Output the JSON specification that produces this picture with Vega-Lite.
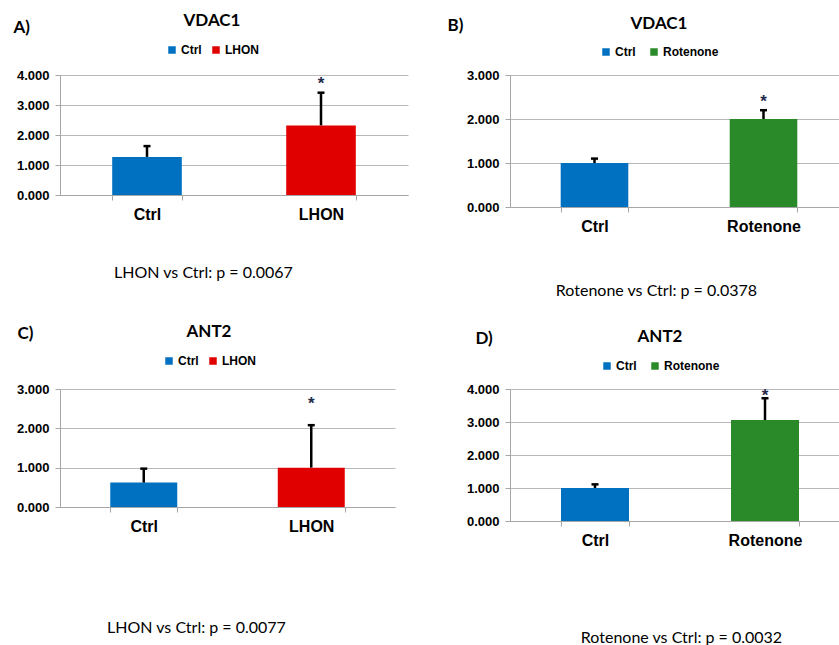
{
  "$schema": "https://vega.github.io/schema/vega-lite/v6.json",
  "autosize": "none",
  "padding": {"left": 60, "top": 75, "right": 779, "bottom": 570},
  "background": "white",
  "datasets": {
    "d": [
      {"panel": "A", "group": "Ctrl", "value": 1.27, "upper": 1.63, "star": null},
      {"panel": "A", "group": "LHON", "value": 2.32, "upper": 3.41, "star": 3.83},
      {"panel": "B", "group": "Ctrl", "value": 1.0, "upper": 1.1, "star": null},
      {"panel": "B", "group": "Rotenone", "value": 2.0, "upper": 2.2, "star": 2.48},
      {"panel": "C", "group": "Ctrl", "value": 0.62, "upper": 0.975, "star": null},
      {"panel": "C", "group": "LHON", "value": 1.0, "upper": 2.08, "star": 2.71},
      {"panel": "D", "group": "Ctrl", "value": 1.0, "upper": 1.11, "star": null},
      {"panel": "D", "group": "Rotenone", "value": 3.06, "upper": 3.72, "star": 3.92}
    ]
  },
  "config": {
    "view": {"stroke": null},
    "axis": {"domainColor": "#a6a6a6", "gridColor": "#b8b8b8", "tickColor": "#a6a6a6", "labelFont": "Liberation Sans", "labelFontWeight": "bold", "labelColor": "black", "titleFont": "Lato", "titleColor": "black", "labelOverlap": false},
    "axisY": {"grid": true, "tickSize": 5, "labelFontSize": 13, "labelPadding": 6, "titleFontSize": 17, "titleFontWeight": "bold", "titleAngle": 0, "titleAlign": "left", "titleBaseline": "middle", "format": ".3f", "labelOverlap": false},
    "axisX": {"labelAngle": 0, "labelFontSize": 16, "labelPadding": 6, "tickBand": "extent", "tickSize": 5, "titleFontSize": 16, "titleFontWeight": "normal", "titleAlign": "center", "titleBaseline": "middle", "grid": false},
    "legend": {"orient": "none", "direction": "horizontal", "titleAnchor": "middle", "titleFont": "Lato", "titleFontSize": 17, "titleFontWeight": "bold", "titleColor": "black", "labelFont": "Liberation Sans", "labelFontWeight": "bold", "labelFontSize": 12, "labelColor": "black", "symbolType": "square", "symbolSize": 56, "symbolStrokeWidth": 0, "symbolOpacity": 1, "labelOffset": 3, "padding": 0, "offset": 0},
    "bar": {"opacity": 1},
    "text": {"font": "Liberation Sans", "fontWeight": "bold", "fontSize": 17, "color": "#1f2c4a", "baseline": "middle", "dy": 4}
  },
  "columns": 2,
  "align": "none",
  "bounds": "flush",
  "spacing": {"row": 182, "column": 102},
  "resolve": {"scale": {"x": "independent", "y": "independent", "color": "independent"}, "axis": {"x": "independent", "y": "independent"}, "legend": {"color": "independent"}},
  "concat": [
    {
      "width": 348, "height": 120,
      "data": {"name": "d"},
      "transform": [{"filter": "datum.panel == 'A'"}],
      "encoding": {
        "x": {"field": "group", "type": "nominal", "sort": ["Ctrl", "LHON"], "scale": {"paddingInner": 0.6, "paddingOuter": 0.3}, "axis": {"title": "LHON vs Ctrl: p = 0.0067", "titleX": 143, "titleY": 77}}
      },
      "layer": [
        {"mark": "bar", "encoding": {
          "y": {"field": "value", "type": "quantitative", "title": "A)", "scale": {"domain": [0, 4]}, "axis": {"values": [0, 1, 2, 3, 4], "titleX": -47, "titleY": -48}},
          "color": {"field": "group", "type": "nominal", "scale": {"domain": ["Ctrl", "LHON"], "range": ["#0070C0", "#E00000"]}, "legend": {"title": "VDAC1", "legendX": 106, "legendY": -62, "titlePadding": 14, "columnPadding": 8}}}},
        {"mark": {"type": "rule", "color": "black", "strokeWidth": 2.5}, "encoding": {"y": {"field": "value", "type": "quantitative", "title": "A)", "axis": {"values": [0, 1, 2, 3, 4], "titleX": -47, "titleY": -48}}, "y2": {"field": "upper"}}},
        {"mark": {"type": "tick", "color": "black", "thickness": 2.5, "size": 7, "orient": "horizontal", "opacity": 1}, "encoding": {"y": {"field": "upper", "type": "quantitative", "title": "A)", "axis": {"values": [0, 1, 2, 3, 4], "titleX": -47, "titleY": -48}}}},
        {"transform": [{"filter": "isValid(datum.star)"}], "mark": {"type": "text", "text": "*"}, "encoding": {"y": {"field": "star", "type": "quantitative", "title": "A)", "axis": {"values": [0, 1, 2, 3, 4], "titleX": -47, "titleY": -48}}}}
      ]
    },
    {
      "width": 338, "height": 132,
      "data": {"name": "d"},
      "transform": [{"filter": "datum.panel == 'B'"}],
      "encoding": {
        "x": {"field": "group", "type": "nominal", "sort": ["Ctrl", "Rotenone"], "scale": {"paddingInner": 0.6, "paddingOuter": 0.3}, "axis": {"title": "Rotenone vs Ctrl: p = 0.0378", "titleX": 146, "titleY": 83}}
      },
      "layer": [
        {"mark": "bar", "encoding": {
          "y": {"field": "value", "type": "quantitative", "title": "B)", "scale": {"domain": [0, 3]}, "axis": {"values": [0, 1, 2, 3], "titleX": -63, "titleY": -50}},
          "color": {"field": "group", "type": "nominal", "scale": {"domain": ["Ctrl", "Rotenone"], "range": ["#0070C0", "#2A8A2A"]}, "legend": {"title": "VDAC1", "legendX": 90, "legendY": -59, "titlePadding": 13, "columnPadding": 12}}}},
        {"mark": {"type": "rule", "color": "black", "strokeWidth": 2.5}, "encoding": {"y": {"field": "value", "type": "quantitative", "title": "B)", "axis": {"values": [0, 1, 2, 3], "titleX": -63, "titleY": -50}}, "y2": {"field": "upper"}}},
        {"mark": {"type": "tick", "color": "black", "thickness": 2.5, "size": 7, "orient": "horizontal", "opacity": 1}, "encoding": {"y": {"field": "upper", "type": "quantitative", "title": "B)", "axis": {"values": [0, 1, 2, 3], "titleX": -63, "titleY": -50}}}},
        {"transform": [{"filter": "isValid(datum.star)"}], "mark": {"type": "text", "text": "*"}, "encoding": {"y": {"field": "star", "type": "quantitative", "title": "B)", "axis": {"values": [0, 1, 2, 3], "titleX": -63, "titleY": -50}}}}
      ]
    },
    {
      "width": 335, "height": 118,
      "data": {"name": "d"},
      "transform": [{"filter": "datum.panel == 'C'"}],
      "encoding": {
        "x": {"field": "group", "type": "nominal", "sort": ["Ctrl", "LHON"], "scale": {"paddingInner": 0.6, "paddingOuter": 0.3}, "axis": {"title": "LHON vs Ctrl: p = 0.0077", "titleX": 136, "titleY": 120}}
      },
      "layer": [
        {"mark": "bar", "encoding": {
          "y": {"field": "value", "type": "quantitative", "title": "C)", "scale": {"domain": [0, 3]}, "axis": {"values": [0, 1, 2, 3], "titleX": -43, "titleY": -56}},
          "color": {"field": "group", "type": "nominal", "scale": {"domain": ["Ctrl", "LHON"], "range": ["#0070C0", "#E00000"]}, "legend": {"title": "ANT2", "legendX": 103, "legendY": -65, "titlePadding": 14, "columnPadding": 8}}}},
        {"mark": {"type": "rule", "color": "black", "strokeWidth": 2.5}, "encoding": {"y": {"field": "value", "type": "quantitative", "title": "C)", "axis": {"values": [0, 1, 2, 3], "titleX": -43, "titleY": -56}}, "y2": {"field": "upper"}}},
        {"mark": {"type": "tick", "color": "black", "thickness": 2.5, "size": 7, "orient": "horizontal", "opacity": 1}, "encoding": {"y": {"field": "upper", "type": "quantitative", "title": "C)", "axis": {"values": [0, 1, 2, 3], "titleX": -43, "titleY": -56}}}},
        {"transform": [{"filter": "isValid(datum.star)"}], "mark": {"type": "text", "text": "*"}, "encoding": {"y": {"field": "star", "type": "quantitative", "title": "C)", "axis": {"values": [0, 1, 2, 3], "titleX": -43, "titleY": -56}}}}
      ]
    },
    {
      "width": 340, "height": 132,
      "data": {"name": "d"},
      "transform": [{"filter": "datum.panel == 'D'"}],
      "encoding": {
        "x": {"field": "group", "type": "nominal", "sort": ["Ctrl", "Rotenone"], "scale": {"paddingInner": 0.6, "paddingOuter": 0.3}, "axis": {"title": "Rotenone vs Ctrl: p = 0.0032", "titleX": 171, "titleY": 116}}
      },
      "layer": [
        {"mark": "bar", "encoding": {
          "y": {"field": "value", "type": "quantitative", "title": "D)", "scale": {"domain": [0, 4]}, "axis": {"values": [0, 1, 2, 3, 4], "titleX": -35, "titleY": -51}},
          "color": {"field": "group", "type": "nominal", "scale": {"domain": ["Ctrl", "Rotenone"], "range": ["#0070C0", "#2A8A2A"]}, "legend": {"title": "ANT2", "legendX": 91, "legendY": -60, "titlePadding": 14, "columnPadding": 12}}}},
        {"mark": {"type": "rule", "color": "black", "strokeWidth": 2.5}, "encoding": {"y": {"field": "value", "type": "quantitative", "title": "D)", "axis": {"values": [0, 1, 2, 3, 4], "titleX": -35, "titleY": -51}}, "y2": {"field": "upper"}}},
        {"mark": {"type": "tick", "color": "black", "thickness": 2.5, "size": 7, "orient": "horizontal", "opacity": 1}, "encoding": {"y": {"field": "upper", "type": "quantitative", "title": "D)", "axis": {"values": [0, 1, 2, 3, 4], "titleX": -35, "titleY": -51}}}},
        {"transform": [{"filter": "isValid(datum.star)"}], "mark": {"type": "text", "text": "*"}, "encoding": {"y": {"field": "star", "type": "quantitative", "title": "D)", "axis": {"values": [0, 1, 2, 3, 4], "titleX": -35, "titleY": -51}}}}
      ]
    }
  ]
}
